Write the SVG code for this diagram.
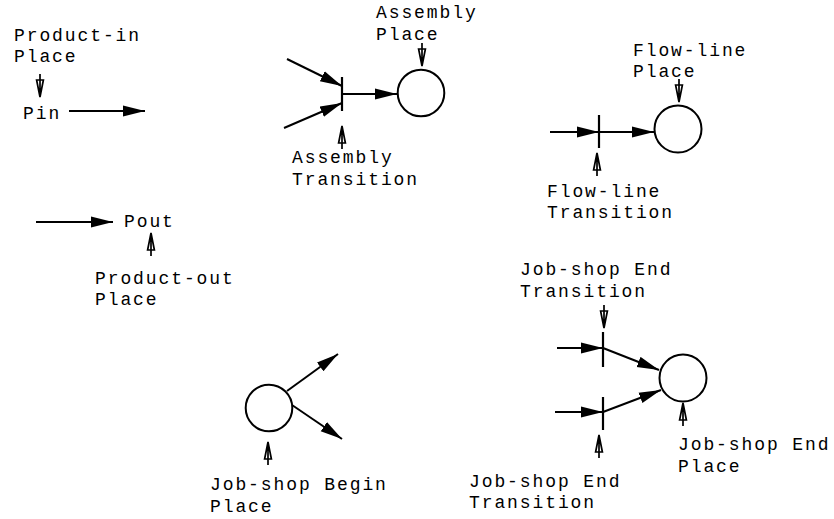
<svg xmlns="http://www.w3.org/2000/svg" xmlns:xlink="http://www.w3.org/1999/xlink" width="834" height="519" viewBox="0 0 834 519">
<style>
text{font-family:"Liberation Mono","Courier New",monospace;font-size:18px;letter-spacing:1.9px;fill:#000}
.arc{stroke:#000;stroke-width:2;fill:none}
.bar{stroke:#000;stroke-width:2.2;fill:none}
.place{stroke:#000;stroke-width:2;fill:#fff}
.ptr{stroke:#000;stroke-width:1.7;fill:none;stroke-linejoin:miter}
</style>
<defs>
<marker id="ah" markerUnits="userSpaceOnUse" markerWidth="24" markerHeight="14" refX="22" refY="6" orient="auto">
<path d="M0,0.5 L22,6 L0,11.5 z" fill="#000"/>
</marker>
<g id="ptr">
<path class="ptr" d="M0,-23 L0,-1 M-3.4,-17 L3.4,-17 L0,0 z"/>
</g>
</defs>
<rect width="834" height="519" fill="#fff"/>
<g id="connectors">
<line class="arc" x1="69" y1="111" x2="145" y2="111" marker-end="url(#ah)"/>
<line class="arc" x1="36" y1="222" x2="113" y2="222" marker-end="url(#ah)"/>
<line class="arc" x1="287" y1="59" x2="342" y2="86" marker-end="url(#ah)"/>
<line class="arc" x1="284" y1="128" x2="342" y2="103" marker-end="url(#ah)"/>
<line class="arc" x1="342" y1="94" x2="397" y2="94" marker-end="url(#ah)"/>
<line class="arc" x1="550" y1="132" x2="599" y2="132" marker-end="url(#ah)"/>
<line class="arc" x1="599" y1="132" x2="654" y2="132" marker-end="url(#ah)"/>
<line class="arc" x1="287" y1="391" x2="338" y2="354" marker-end="url(#ah)"/>
<line class="arc" x1="292" y1="405" x2="342" y2="439" marker-end="url(#ah)"/>
<line class="arc" x1="557" y1="348" x2="603" y2="348" marker-end="url(#ah)"/>
<line class="arc" x1="603" y1="348" x2="659" y2="370" marker-end="url(#ah)"/>
<line class="arc" x1="555" y1="412" x2="603" y2="412" marker-end="url(#ah)"/>
<line class="arc" x1="603" y1="412" x2="661" y2="390" marker-end="url(#ah)"/>
</g>
<g id="pin">
<text x="14" y="41">Product-in</text>
<text x="14" y="62">Place</text>
<use xlink:href="#ptr" transform="translate(40,97)"/>
<text x="23" y="119">Pin</text>
</g>
<g id="pout">
<text x="124" y="227">Pout</text>
<use xlink:href="#ptr" transform="translate(151,233) rotate(180)"/>
<text x="95" y="284">Product-out</text>
<text x="95" y="305">Place</text>
</g>
<g id="assembly-transition">
<line class="bar" x1="342" y1="77" x2="342" y2="111"/>
<use xlink:href="#ptr" transform="translate(342,126) rotate(180)"/>
<text x="292" y="163">Assembly</text>
<text x="292" y="185">Transition</text>
</g>
<g id="assembly-place">
<circle class="place" cx="421" cy="93" r="23.3"/>
<use xlink:href="#ptr" transform="translate(422,66)"/>
<text x="376" y="18">Assembly</text>
<text x="376" y="40">Place</text>
</g>
<g id="flowline-transition">
<line class="bar" x1="599" y1="115" x2="599" y2="148"/>
<use xlink:href="#ptr" transform="translate(597,153) rotate(180)"/>
<text x="547" y="197">Flow-line</text>
<text x="547" y="218">Transition</text>
</g>
<g id="flowline-place">
<circle class="place" cx="678" cy="129" r="23.5"/>
<use xlink:href="#ptr" transform="translate(679,102)"/>
<text x="633" y="56">Flow-line</text>
<text x="633" y="77">Place</text>
</g>
<g id="jobshop-begin-place">
<circle class="place" cx="269" cy="408" r="23.3"/>
<use xlink:href="#ptr" transform="translate(268,442) rotate(180)"/>
<text x="210" y="490">Job-shop Begin</text>
<text x="210" y="512">Place</text>
</g>
<g id="jobshop-end-transition-top">
<line class="bar" x1="603" y1="332" x2="603" y2="367"/>
<use xlink:href="#ptr" transform="translate(604,328)"/>
<text x="520" y="275">Job-shop End</text>
<text x="520" y="297">Transition</text>
</g>
<g id="jobshop-end-transition-bottom">
<line class="bar" x1="603" y1="397" x2="603" y2="430"/>
<use xlink:href="#ptr" transform="translate(599,435) rotate(180)"/>
<text x="469" y="487">Job-shop End</text>
<text x="469" y="508">Transition</text>
</g>
<g id="jobshop-end-place">
<circle class="place" cx="683" cy="378" r="23.5"/>
<use xlink:href="#ptr" transform="translate(683,403) rotate(180)"/>
<text x="678" y="450">Job-shop End</text>
<text x="678" y="472">Place</text>
</g>
</svg>
